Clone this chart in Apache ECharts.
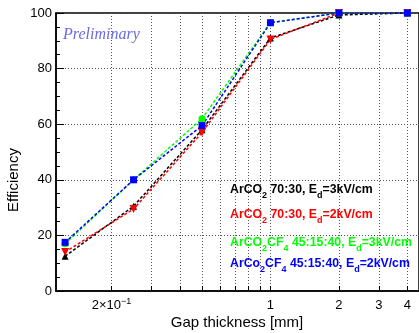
<!DOCTYPE html>
<html><head><meta charset="utf-8">
<script src="https://cdn.jsdelivr.net/npm/echarts@6/dist/echarts.min.js"></script>
<style>html,body{margin:0;padding:0;background:#fff}#c{width:419px;height:333px}</style>
</head><body><div id="c"></div>
<script>
// ---- data ----
const gapThickness = [0.125, 0.25, 0.5, 1, 2, 4];
const effArCO2_3kV = [12.5, 30.5, 58, 91, 99.3, 100];
const effArCO2_2kV = [14, 29.5, 57, 90.5, 100, 100];
const effArCO2CF4_3kV = [17, 40, 62, 96.5, 100, 100];
const effArCo2CF4_2kV = [17.5, 40, 59.5, 96.5, 100, 100];
const xTickValues = [0.2, 0.3, 0.4, 0.5, 0.6, 0.7, 0.8, 0.9, 1, 2, 3, 4];
const xLabelValues = [0.2, 1, 2, 3, 4];
const yTickStep = 20;
const legendLines = [
  {parts: [['n','ArCO'],['s','2'],['n',' 70:30, E'],['s','d'],['n','=3kV/cm']], color: '#000000'},
  {parts: [['n','ArCO'],['s','2'],['n',' 70:30, E'],['s','d'],['n','=2kV/cm']], color: '#ff0000'},
  {parts: [['n','ArCO'],['s','2'],['n','CF'],['s','4'],['n',' 45:15:40, E'],['s','d'],['n','=3kV/cm']], color: '#00ff00'},
  {parts: [['n','ArCo'],['s','2'],['n','CF'],['s','4'],['n',' 45:15:40, E'],['s','d'],['n','=2kV/cm']], color: '#0000ff'}
];

const FONT = 'Liberation Sans, Arial, Helvetica, sans-serif';
function pairs(ys) { return gapThickness.map((x, i) => [x, ys[i]]); }
function mkSeries(name, ys, color, symbol, size, rot) {
  return {
    name, type: 'line', data: pairs(ys), symbol, symbolSize: size, symbolRotate: rot || 0,
    lineStyle: {color, width: 1.5, type: [3, 2]},
    itemStyle: {color}, emphasis: {disabled: true}, animation: false, z: 3
  };
}
const legendTops = [184, 209, 237, 258];
const legendGraphics = legendLines.map((L, i) => ({
  type: 'text', left: 230, top: legendTops[i], z: 10,
  style: {
    text: L.parts.map(p => '{' + p[0] + '|' + p[1] + '}').join(''),
    rich: {
      n: {fontSize: 12.3, fontWeight: 'bold', fontFamily: FONT, fill: L.color, lineHeight: 14, verticalAlign: 'top'},
      s: {fontSize: 9, fontWeight: 'bold', fontFamily: FONT, fill: L.color, lineHeight: 10, padding: [7, 0, 0, 0], verticalAlign: 'top'}
    }
  }
}));

const chart = echarts.init(document.getElementById('c'), null, {renderer: 'canvas'});
chart.setOption({
  animation: false,
  backgroundColor: '#ffffff',
  grid: {left: 56, right: -4, top: 13, bottom: 42, show: true, borderColor: '#000', borderWidth: 1.5, backgroundColor: 'transparent'},
  xAxis: {
    type: 'log', logBase: 10, min: 0.114, max: 4.5,
    axisLine: {show: true, onZero: false, lineStyle: {color: '#000', width: 1.5}},
    axisTick: {show: true, inside: true, length: 5, customValues: xTickValues, lineStyle: {color: '#000'}},
    minorTick: {show: false},
    splitLine: {show: true, lineStyle: {color: '#555', width: 1, type: [1, 2]}},
    axisLabel: {
      customValues: xLabelValues, margin: 6, color: '#000', fontSize: 13, fontFamily: FONT,
      formatter: v => Math.abs(v - 0.2) < 1e-6 ? '{n|2×10}{sup|−1}' : '{n|' + Math.round(v) + '}',
      rich: {
        n: {fontSize: 13, fontFamily: FONT, color: '#000', lineHeight: 16, verticalAlign: 'top', padding: [2, 0, 0, 0]},
        sup: {fontSize: 9, fontFamily: FONT, color: '#000', lineHeight: 10, verticalAlign: 'top'}
      }
    }
  },
  yAxis: {
    type: 'value', min: 0, max: 100, interval: yTickStep,
    axisLine: {show: true, lineStyle: {color: '#000', width: 1.5}},
    axisTick: {show: true, inside: true, length: 8, lineStyle: {color: '#000'}},
    minorTick: {show: true, splitNumber: 4, length: 4, lineStyle: {color: '#000'}},
    splitLine: {show: true, lineStyle: {color: '#555', width: 1, type: [1, 2]}},
    axisLabel: {margin: 4, color: '#000', fontSize: 13, fontFamily: FONT}
  },
  series: [
    mkSeries('ArCO2 70:30, Ed=3kV/cm', effArCO2_3kV, '#000000', 'triangle', 7),
    mkSeries('ArCO2 70:30, Ed=2kV/cm', effArCO2_2kV, '#ff0000', 'triangle', 8, 180),
    mkSeries('ArCO2CF4 45:15:40, Ed=3kV/cm', effArCO2CF4_3kV, '#00ff00', 'circle', 7),
    mkSeries('ArCo2CF4 45:15:40, Ed=2kV/cm', effArCo2CF4_2kV, '#0000ff', 'rect', 7)
  ],
  graphic: [
    {type: 'text', x: 14, y: 180, rotation: Math.PI / 2, z: 10,
     style: {text: 'Efficiency', fontSize: 15, fontFamily: FONT, fill: '#000', align: 'center', verticalAlign: 'middle'}},
    {type: 'text', x: 237, y: 323, z: 10,
     style: {text: 'Gap thickness [mm]', fontSize: 15, fontFamily: FONT, fill: '#000', align: 'center', verticalAlign: 'middle'}},
    {type: 'text', x: 63, y: 35, z: 10,
     style: {text: 'Preliminary', fontSize: 16, fontStyle: 'italic', fontFamily: 'Liberation Serif, Times New Roman, serif', fill: '#6b6be0', align: 'left', verticalAlign: 'middle'}}
  ].concat(legendGraphics)
});
</script>
</body></html>
